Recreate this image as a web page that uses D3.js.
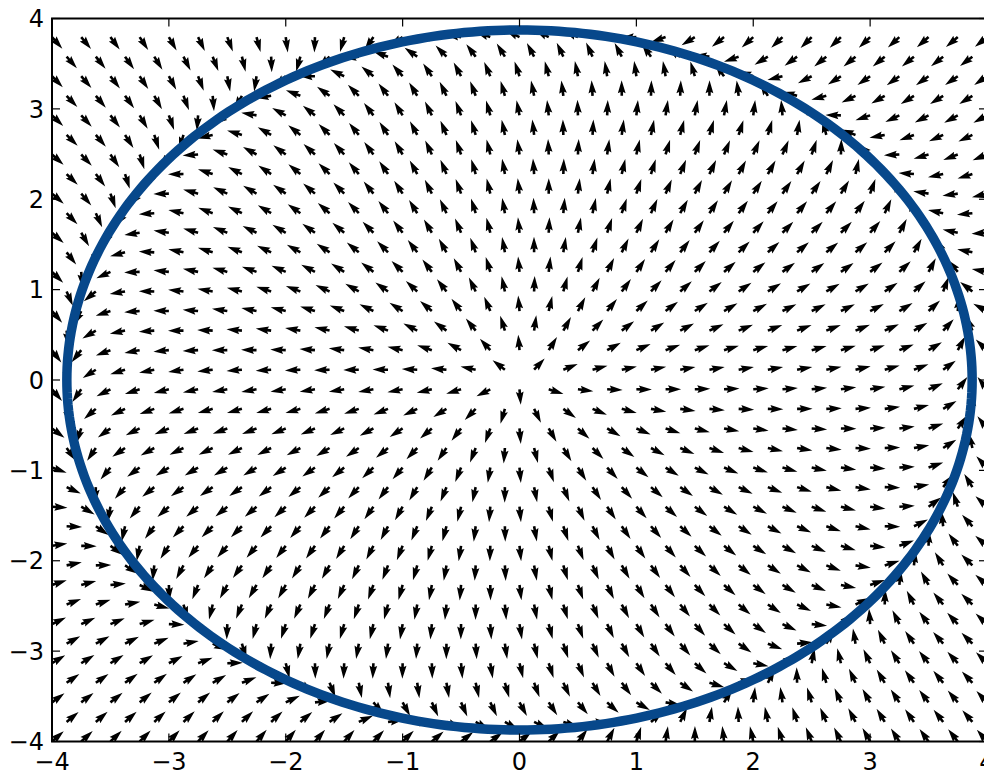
<!DOCTYPE html>
<html>
<head>
<meta charset="utf-8">
<script src="https://cdn.jsdelivr.net/npm/d3@7"></script>
<style>
  html, body { margin: 0; padding: 0; background: #fff; }
  svg { display: block; }
  text { font-family: "DejaVu Sans", sans-serif; }
</style>
</head>
<body>
<svg id="chart" width="984" height="775"></svg>
<script>
// Axis ticks (both axes run from -4 to 4)
const xTicks = [-4, -3, -2, -1, 0, 1, 2, 3, 4];
const yTicks = [-4, -3, -2, -1, 0, 1, 2, 3, 4];
const xDomain = [-4, 4];
const yDomain = [-4, 4];

// Hexagonal sampling lattice for the direction field
const gridStep = [0.25];                       // spacing between neighbouring arrows
const rowCount = [37];                         // rows from y = -4 upwards
const rowOffsets = [0, 0.125];                 // x shift of even / odd rows

// Planar system  x' = k x (R² - r²) - w y,  y' = k y (R² - r²) + w x
const radiusSquared = [15];                    // limit cycle r = sqrt(15)
const radialGain = [0.8];
const angularSpeed = [1];

const plot = { left: 52, top: 18.5, right: 987, bottom: 741.5 };

const svg = d3.select("#chart");
const x = d3.scaleLinear().domain(xDomain).range([plot.left, plot.right]);
const y = d3.scaleLinear().domain(yDomain).range([plot.bottom, plot.top]);

svg.append("defs").append("clipPath").attr("id", "plotClip")
  .append("rect")
  .attr("x", plot.left).attr("y", plot.top)
  .attr("width", plot.right - plot.left).attr("height", plot.bottom - plot.top);

// build lattice points with their field vectors
const pts = [];
const h = gridStep[0] * Math.sqrt(3) / 2;
for (let j = 0; j < rowCount[0]; j++) {
  const yy = yDomain[0] + j * h;
  const off = rowOffsets[j % 2];
  for (let xx = xDomain[0] + off; xx <= xDomain[1] + 1e-9; xx += gridStep[0]) {
    const r2 = xx * xx + yy * yy;
    const g = radialGain[0] * (radiusSquared[0] - r2);
    const u = g * xx - angularSpeed[0] * yy;
    const v = g * yy + angularSpeed[0] * xx;
    pts.push({ x: xx, y: yy, u, v });
  }
}

const plotArea = svg.append("g").attr("clip-path", "url(#plotClip)");

// quiver-style arrow: tail at origin, pointing along +x, all the same length
const sw = 2.6, L = 15.5;
const hw = 3 * sw, hl = 5 * sw, hal = 4.5 * sw;
const arrowPath = `M0,${-sw / 2}L${L - hal},${-sw / 2}L${L - hl},${-hw / 2}L${L},0L${L - hl},${hw / 2}L${L - hal},${sw / 2}L0,${sw / 2}Z`;

plotArea.append("g").selectAll("path")
  .data(pts)
  .join("path")
  .attr("d", arrowPath)
  .attr("fill", "#000")
  .attr("transform", d => {
    const ang = -Math.atan2(d.v, d.u) * 180 / Math.PI;
    return `translate(${x(d.x)},${y(d.y)}) rotate(${ang})`;
  });

// limit cycle, drawn over the field
const R = Math.sqrt(radiusSquared[0]);
const ring = d3.range(0, 360).map(a => [R * Math.cos(a * Math.PI / 180), R * Math.sin(a * Math.PI / 180)]);
plotArea.append("path")
  .datum(ring)
  .attr("d", d3.line().x(d => x(d[0])).y(d => y(d[1])).curve(d3.curveLinearClosed))
  .attr("fill", "none")
  .attr("stroke", "#07488b")
  .attr("stroke-width", 9.5);

// frame
svg.append("rect")
  .attr("x", plot.left).attr("y", plot.top)
  .attr("width", plot.right - plot.left).attr("height", plot.bottom - plot.top)
  .attr("fill", "none").attr("stroke", "#000").attr("stroke-width", 2);

const fmt = v => (v < 0 ? "\u2212" + Math.abs(v) : String(v));
const tickLen = 8;
const axes = svg.append("g").attr("stroke", "#000").attr("stroke-width", 1.2);

xTicks.forEach(t => {
  axes.append("line").attr("x1", x(t)).attr("x2", x(t)).attr("y1", plot.bottom).attr("y2", plot.bottom - tickLen);
  axes.append("line").attr("x1", x(t)).attr("x2", x(t)).attr("y1", plot.top).attr("y2", plot.top + tickLen);
});
yTicks.forEach(t => {
  axes.append("line").attr("y1", y(t)).attr("y2", y(t)).attr("x1", plot.left).attr("x2", plot.left + tickLen);
  axes.append("line").attr("y1", y(t)).attr("y2", y(t)).attr("x1", plot.right).attr("x2", plot.right - tickLen);
});

svg.append("g").selectAll("text").data(xTicks).join("text")
  .attr("x", d => x(d)).attr("y", plot.bottom + 28)
  .attr("text-anchor", "middle")
  .attr("font-size", 24)
  .text(fmt);

svg.append("g").selectAll("text").data(yTicks).join("text")
  .attr("x", plot.left - 8).attr("y", d => y(d) + 8.7)
  .attr("text-anchor", "end")
  .attr("font-size", 24)
  .text(fmt);
</script>
</body>
</html>
